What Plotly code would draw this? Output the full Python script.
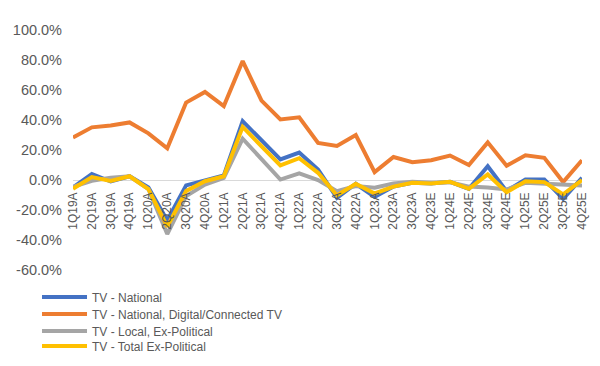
import plotly.graph_objects as go

quarters = ["1Q19A", "2Q19A", "3Q19A", "4Q19A", "1Q20A", "2Q20A", "3Q20A", "4Q20A",
            "1Q21A", "2Q21A", "3Q21A", "4Q21A", "1Q22A", "2Q22A", "3Q22A", "4Q22A",
            "1Q23A", "2Q23A", "3Q23A", "4Q23E", "1Q24E", "2Q24E", "3Q24E", "4Q24E",
            "1Q25E", "2Q25E", "3Q25E", "4Q25E"]

tv_national = [-5.0, 4.0, -1.0, 2.5, -5.0, -27.0, -3.6, 0.0,
               3.0, 39.2, 26.0, 13.7, 18.3, 7.0, -11.9, -2.5,
               -11.3, -4.4, -1.9, -2.3, -1.2, -5.9, 9.2, -7.4,
               0.4, 0.4, -12.5, 1.5]

tv_national_digital = [28.4, 35.1, 36.4, 38.4, 31.1, 21.1, 51.6, 58.7,
                       49.3, 79.3, 52.9, 40.4, 41.8, 24.7, 22.7, 30.0,
                       5.3, 15.3, 11.9, 13.2, 16.3, 10.0, 25.1, 9.5,
                       16.5, 14.8, -1.4, 13.2]

tv_local_ex_political = [-4.5, -0.5, 1.5, 2.5, -6.0, -36.0, -10.7, -3.0,
                         1.4, 27.5, 13.9, 0.3, 4.5, 0.0, -7.4, -4.0,
                         -5.1, -2.3, -1.2, -1.8, -1.5, -4.4, -5.0, -6.3,
                         -1.9, -2.4, -3.0, -3.7]

tv_total_ex_political = [-5.8, 2.0, -0.7, 2.5, -6.0, -31.0, -7.4, -0.8,
                         2.5, 35.4, 22.5, 9.7, 14.5, 4.8, -10.3, -2.5,
                         -9.0, -4.4, -1.9, -2.3, -1.2, -5.9, 3.7, -8.1,
                         -0.8, -1.4, -9.6, 0.0]

y_ticks = [-60, -40, -20, 0, 20, 40, 60, 80, 100]
y_tick_labels = [f"{v:.1f}%" for v in y_ticks]

series = [
    ("TV - National", tv_national, "#4472C4"),
    ("TV - National, Digital/Connected TV", tv_national_digital, "#ED7D31"),
    ("TV - Local, Ex-Political", tv_local_ex_political, "#A5A5A5"),
    ("TV - Total Ex-Political", tv_total_ex_political, "#FFC000"),
]

# one single-entry legend per series so the entries can sit closer together
legend_ids = ["legend", "legend2", "legend3", "legend4"]
legend_y = [-0.0521, -0.1229, -0.1938, -0.2563]

fig = go.Figure()
for (name, vals, color), lid in zip(series, legend_ids):
    fig.add_trace(go.Scatter(x=quarters, y=vals, mode="lines", name=name,
                             line=dict(color=color, width=4), legend=lid))

font_family = "Liberation Sans, Arial, sans-serif"
ymin, ymax = -60, 100
zero_pos = (0 - ymin) / (ymax - ymin)

legend_style = dict(orientation="v", x=-0.0707, xanchor="left", yanchor="top",
                    font=dict(size=12, color="#595959"), bgcolor="rgba(0,0,0,0)",
                    itemwidth=45)

fig.update_layout(
    width=600, height=366,
    margin=dict(l=65, r=26, t=22, b=104),
    paper_bgcolor="white", plot_bgcolor="white",
    font=dict(family=font_family, color="#595959"),
    showlegend=True,
    xaxis=dict(type="category", anchor="free", position=zero_pos, automargin=False,
               showgrid=False, showline=False, zeroline=False, ticks="",
               tickangle=-90, tickfont=dict(size=12, color="#595959"),
               ticklabelstandoff=9),
    yaxis=dict(range=[ymin, ymax], tickvals=y_ticks, ticktext=y_tick_labels,
               automargin=False,
               showgrid=False, showline=False, zeroline=True, zerolinecolor="#D9D9D9",
               zerolinewidth=1, ticks="", tickfont=dict(size=14.5, color="#595959"),
               ticklabelstandoff=10),
)
for lid, ly in zip(legend_ids, legend_y):
    fig.update_layout({lid: dict(legend_style, y=ly)})

fig.write_html("out.html")
